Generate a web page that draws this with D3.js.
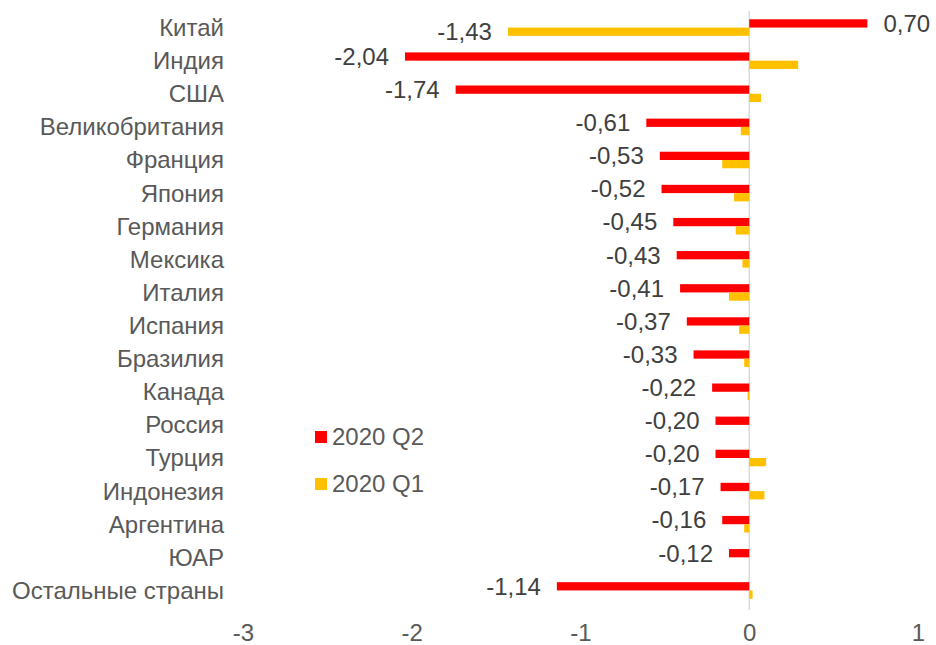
<!DOCTYPE html>
<html>
<head>
<meta charset="utf-8">
<script src="https://cdn.jsdelivr.net/npm/d3@7"></script>
<style>
  body { margin: 0; background: #fff; }
  text { font-family: Arial, "Liberation Sans", sans-serif; }
</style>
</head>
<body>
<svg id="chart" width="936" height="645"></svg>
<script>
const countries = ["Китай", "Индия", "США", "Великобритания", "Франция", "Япония", "Германия",
  "Мексика", "Италия", "Испания", "Бразилия", "Канада", "Россия", "Турция", "Индонезия",
  "Аргентина", "ЮАР", "Остальные страны"];
const q2 = [0.70, -2.04, -1.74, -0.61, -0.53, -0.52, -0.45, -0.43, -0.41, -0.37, -0.33,
  -0.22, -0.20, -0.20, -0.17, -0.16, -0.12, -1.14];
const q1 = [-1.43, 0.29, 0.07, -0.05, -0.16, -0.09, -0.08, -0.04, -0.12, -0.06, -0.03,
  -0.01, 0.0, 0.10, 0.09, -0.03, 0.0, 0.02];
const xTicks = [-3, -2, -1, 0, 1];
const seriesNames = ["2020 Q2", "2020 Q1"];
const colors = ["#FF0000", "#FFC000"];

const svg = d3.select("#chart");
const x = d3.scaleLinear().domain([-3, 1]).range([243, 918]);
const y = d3.scaleBand().domain(countries).range([11, 607])
  .paddingInner(0.5).paddingOuter(0.25);
const sub = d3.scaleBand().domain([0, 1]).range([0, y.bandwidth()]);
const fmt = (v) => d3.format(".2f")(v).replace(".", ",").replace("−", "-");
const textColor = "#595959";
const fontSize = "24px";

// zero line
svg.append("line")
  .attr("x1", x(0)).attr("x2", x(0))
  .attr("y1", 11).attr("y2", 610)
  .attr("stroke", "#d9d9d9").attr("stroke-width", 1.5);

const rows = countries.map((c, i) => ({ c, vals: [q2[i], q1[i]] }));

[0, 1].forEach((s) => {
  svg.append("g").selectAll("rect")
    .data(rows)
    .join("rect")
    .attr("x", (d) => x(Math.min(0, d.vals[s])))
    .attr("y", (d) => y(d.c) + sub(s))
    .attr("width", (d) => Math.abs(x(d.vals[s]) - x(0)))
    .attr("height", sub.bandwidth())
    .attr("fill", colors[s]);
});

// value labels (all Q2, plus China Q1)
const labels = rows.map((d) => ({ c: d.c, v: d.vals[0], s: 0 }));
labels.push({ c: "Китай", v: q1[0], s: 1 });
svg.append("g").selectAll("text")
  .data(labels)
  .join("text")
  .attr("x", (d) => d.v < 0 ? x(d.v) - 16 : x(d.v) + 16)
  .attr("y", (d) => y(d.c) + sub(d.s) + sub.bandwidth() / 2)
  .attr("dy", "0.35em")
  .attr("text-anchor", (d) => d.v < 0 ? "end" : "start")
  .attr("fill", "#404040")
  .style("font-size", fontSize)
  .text((d) => fmt(d.v));

// category labels
svg.append("g").selectAll("text")
  .data(countries)
  .join("text")
  .attr("x", 224)
  .attr("y", (d) => y(d) + y.bandwidth() / 2)
  .attr("dy", "0.35em")
  .attr("text-anchor", "end")
  .attr("fill", textColor)
  .style("font-size", fontSize)
  .text((d) => d);

// x axis
const xAxis = svg.append("g")
  .attr("transform", "translate(0,624)")
  .call(d3.axisBottom(x).tickValues(xTicks).tickSize(0).tickPadding(0)
    .tickFormat((d) => String(d)));
xAxis.select(".domain").remove();
xAxis.selectAll("text")
  .attr("fill", textColor)
  .style("font-size", fontSize)
  .style("font-family", "Arial, 'Liberation Sans', sans-serif");

// legend
const legend = svg.append("g").selectAll("g")
  .data(seriesNames)
  .join("g")
  .attr("transform", (d, i) => `translate(315,${437 + i * 47})`);
legend.append("rect")
  .attr("x", 0).attr("y", -6)
  .attr("width", 12).attr("height", 12)
  .attr("fill", (d, i) => colors[i]);
legend.append("text")
  .attr("x", 17).attr("y", 0)
  .attr("dy", "0.35em")
  .attr("fill", textColor)
  .style("font-size", fontSize)
  .text((d) => d);
</script>
</body>
</html>
